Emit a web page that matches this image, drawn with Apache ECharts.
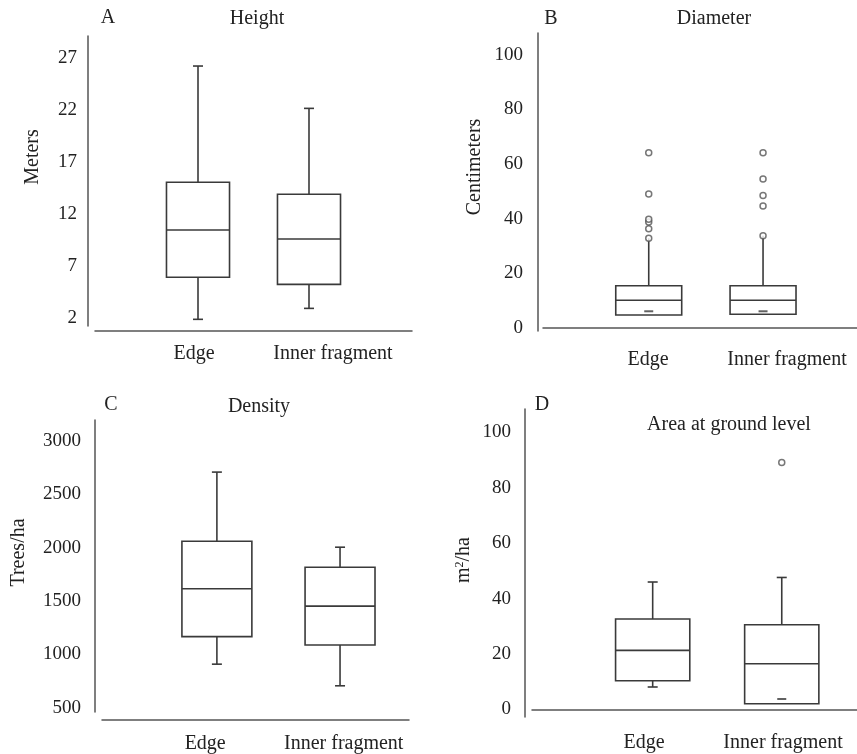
<!DOCTYPE html>
<html>
<head>
<meta charset="utf-8">
<script src="https://cdn.jsdelivr.net/npm/echarts@6/dist/echarts.min.js"></script>
<style>
html,body{margin:0;padding:0;background:#fff;}
#chart{width:857px;height:754px;}
</style>
</head>
<body>
<div id="chart"></div>
<script>
// ---------------- DATA ----------------
const categories = ['Edge', 'Inner fragment'];

// A: Height (m) — [min, Q1, median, Q3, max] per category
const heightBoxes = [[1.92, 5.95, 10.48, 15.06, 26.21], [2.97, 5.27, 9.62, 13.91, 22.15]];
const heightTicks = [2, 7, 12, 17, 22, 27];

// B: Diameter (cm)
const diameterBoxes = [[4.7, 4.7, 10.08, 15.43, 32.79], [4.96, 4.96, 10.08, 15.43, 33.74]];
const diameterMeans = [6.06, 6.06];
const diameterOutliersEdge = [32.79, 36.3, 38.76, 39.75, 49.0, 64.1];
const diameterOutliersInner = [33.74, 44.6, 48.5, 54.5, 64.1];
const diameterTicks = [0, 20, 40, 60, 80, 100];

// C: Density (trees/ha)
const densityBoxes = [[907, 1166, 1615, 2061, 2710], [704, 1087, 1452, 1817, 2005]];
const densityTicks = [500, 1000, 1500, 2000, 2500, 3000];

// D: Area at ground level (m2/ha)
const areaBoxes = [[8.07, 10.34, 21.27, 32.61, 45.96], [2.04, 2.04, 16.48, 30.55, 47.6]];
const areaMeans = [null, 3.74];
const areaOutliersEdge = [];
const areaOutliersInner = [89.1];
const areaTicks = [0, 20, 40, 60, 80, 100];

// ---------------- STYLE ----------------
const FONT = "'Liberation Serif', 'Times New Roman', serif";
const TXT = '#222';
const LINE = '#3a3a3a';
const AXIS = '#555';

const panels = [
  { grid: {left: 95, top: 36, width: 317, height: 290}, yOff: 7, xOff: 5,
    yMin: 1.28, yMax: 29.09, xMin: 0.072, xMax: 2.928, labelPos: [0.964, 2.216], boxFrac: 0.568,
    ticks: heightTicks, boxes: heightBoxes, means: null, outliers: null, caps: true,
    name: 'Meters', nameGap: 45, namePad: [0, 0, 0, 48], tickMargin: 11, xMargin: 13 },
  { grid: {left: 543, top: 33, width: 314, height: 298}, yOff: 5, xOff: 6,
    yMin: -1.16, yMax: 107.97, xMin: 0.075, xMax: 2.822, labelPos: [0.994, 2.21], boxFrac: 0.577,
    ticks: diameterTicks, boxes: diameterBoxes, means: diameterMeans,
    outliers: [diameterOutliersEdge, diameterOutliersInner], caps: false,
    name: 'Centimeters', nameGap: 53, namePad: [0, 0, 0, 30], tickMargin: 15, xMargin: 13 },
  { grid: {left: 102, top: 420, width: 307, height: 293}, yOff: 7, xOff: 8,
    yMin: 458, yMax: 3199, xMin: 0.067, xMax: 2.56, labelPos: [0.905, 2.03], boxFrac: 0.568,
    ticks: densityTicks, boxes: densityBoxes, means: null, outliers: null, caps: true,
    name: 'Trees/ha', nameGap: 66, namePad: [0, 0, 0, 27], tickMargin: 14, xMargin: 14 },
  { grid: {left: 532, top: 409, width: 325, height: 308}, yOff: 7, xOff: 6,
    yMin: -2.76, yMax: 108.4, xMin: 0.065, xMax: 2.583, labelPos: [0.934, 2.01], boxFrac: 0.575,
    ticks: areaTicks, boxes: areaBoxes, means: areaMeans,
    outliers: [areaOutliersEdge, areaOutliersInner], caps: true,
    name: 'm{sup|2}/ha', nameGap: 51, namePad: [0, 0, 0, 6], tickMargin: 14, xMargin: 10 }
];

const headers = [
  {text: 'A', x: 108, y: 18}, {text: 'Height', x: 257, y: 19},
  {text: 'B', x: 551, y: 19}, {text: 'Diameter', x: 714, y: 19},
  {text: 'C', x: 111, y: 405}, {text: 'Density', x: 259, y: 407},
  {text: 'D', x: 542, y: 405}, {text: 'Area at ground level', x: 729, y: 425}
];

function makeRender(boxFrac, caps) {
  return function (params, api) {
    const x = api.value(0);
    const pMin = api.coord([x, api.value(1)]);
    const pQ1 = api.coord([x, api.value(2)]);
    const pMed = api.coord([x, api.value(3)]);
    const pQ3 = api.coord([x, api.value(4)]);
    const pMax = api.coord([x, api.value(5)]);
    const half = api.size([boxFrac, 0])[0] / 2;
    const cx = pMed[0];
    const st = {stroke: LINE, lineWidth: 1.6, fill: null};
    const ch = [
      {type: 'line', shape: {x1: cx, y1: pQ3[1], x2: cx, y2: pMax[1]}, style: st},
      {type: 'line', shape: {x1: cx, y1: pQ1[1], x2: cx, y2: pMin[1]}, style: st},
      {type: 'rect', shape: {x: cx - half, y: pQ3[1], width: 2 * half, height: pQ1[1] - pQ3[1]},
        style: {stroke: LINE, lineWidth: 1.6, fill: '#fff'}},
      {type: 'line', shape: {x1: cx - half, y1: pMed[1], x2: cx + half, y2: pMed[1]}, style: st}
    ];
    if (caps) {
      const c = 5;
      if (api.value(5) > api.value(4)) ch.push({type: 'line', shape: {x1: cx - c, y1: pMax[1], x2: cx + c, y2: pMax[1]}, style: st});
      if (api.value(1) < api.value(2)) ch.push({type: 'line', shape: {x1: cx - c, y1: pMin[1], x2: cx + c, y2: pMin[1]}, style: st});
    }
    return {type: 'group', children: ch};
  };
}

const grids = [], xAxes = [], yAxes = [], series = [];
panels.forEach((p, i) => {
  grids.push(p.grid);
  xAxes.push({
    type: 'value', gridIndex: i, min: p.xMin, max: p.xMax, offset: p.xOff,
    axisLine: {show: true, lineStyle: {color: AXIS, width: 1.5}},
    axisTick: {show: false}, splitLine: {show: false},
    axisLabel: {
      customValues: p.labelPos, margin: p.xMargin,
      formatter: v => categories[Math.round(v) - 1] || '',
      color: TXT, fontFamily: FONT, fontSize: 20
    }
  });
  yAxes.push({
    type: 'value', gridIndex: i, min: p.yMin, max: p.yMax, offset: p.yOff,
    axisLine: {show: true, lineStyle: {color: AXIS, width: 1.5}},
    axisTick: {show: false}, splitLine: {show: false},
    axisLabel: {customValues: p.ticks, margin: p.tickMargin, formatter: v => String(v),
      color: TXT, fontFamily: FONT, fontSize: 19},
    name: p.name, nameLocation: 'middle', nameRotate: 90, nameGap: p.nameGap,
    nameTextStyle: {color: TXT, fontFamily: FONT, fontSize: 20, padding: p.namePad,
      rich: {sup: {fontSize: 12, verticalAlign: 'top', padding: [0, 0, 8, 0], fontFamily: FONT, color: TXT}}}
  });
  series.push({
    type: 'custom', xAxisIndex: i, yAxisIndex: i, silent: true,
    renderItem: makeRender(p.boxFrac, p.caps),
    encode: {x: 0, y: [1, 2, 3, 4, 5]},
    data: p.boxes.map((b, k) => [k + 1].concat(b))
  });
  if (p.means) {
    series.push({
      type: 'scatter', xAxisIndex: i, yAxisIndex: i, silent: true,
      symbol: 'rect', symbolSize: [9, 2], itemStyle: {color: LINE},
      data: p.means.map((m, k) => m == null ? null : [k + 1, m]).filter(d => d)
    });
  }
  if (p.outliers) {
    const pts = [];
    p.outliers.forEach((arr, k) => arr.forEach(v => pts.push([k + 1, v])));
    series.push({
      type: 'scatter', xAxisIndex: i, yAxisIndex: i, silent: true, z: 5,
      symbol: 'circle', symbolSize: 6,
      itemStyle: {color: '#fff', borderColor: '#555', borderWidth: 1.5},
      data: pts
    });
  }
});

const chart = echarts.init(document.getElementById('chart'), null, {renderer: 'canvas'});
chart.setOption({
  animation: false,
  backgroundColor: '#fff',
  grid: grids, xAxis: xAxes, yAxis: yAxes, series: series,
  graphic: headers.map(h => ({
    type: 'text', x: h.x, y: h.y,
    style: {text: h.text, fill: TXT, font: '20px ' + FONT, textAlign: 'center', textVerticalAlign: 'middle'}
  }))
});
</script>
</body>
</html>
